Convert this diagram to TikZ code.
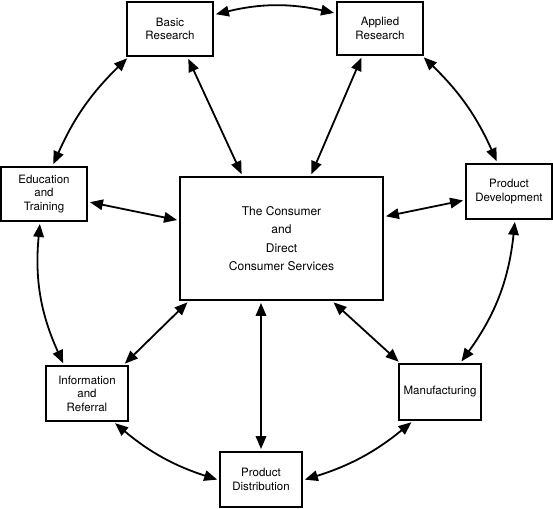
\documentclass[tikz,border=0pt]{standalone}
\usepackage{fontspec}
\setmainfont{TeX Gyre Heros}
\usetikzlibrary{arrows.meta}
\begin{document}
\begin{tikzpicture}[x=1pt,y=-1pt,
box/.style={draw,line width=1.9pt,align=center,inner sep=0pt,font=\fontsize{11.5}{13.5}\selectfont},
link/.style={{Triangle[length=13pt,width=10.5pt]}-{Triangle[length=13pt,width=10.5pt]},line width=1.8pt,shorten <=2pt,shorten >=2pt}]
\useasboundingbox(0,0)rectangle(553,508);
\node[box,minimum width=86pt,minimum height=54pt](basic)at(170,29){Basic\\Research};
\node[box,minimum width=86pt,minimum height=53pt](applied)at(380,28.5){Applied\\Research};
\node[box,minimum width=86pt,minimum height=54pt](edu)at(44,194){Education\\and\\Training};
\node[box,minimum width=86pt,minimum height=55pt](devel)at(509,191.5){Product\\Development};
\node[box,minimum width=203pt,minimum height=123pt,font=\fontsize{12}{18.3}\selectfont](consumer)at(281.5,238.5){The Consumer\\and\\Direct\\Consumer Services};
\node[box,minimum width=82pt,minimum height=55pt](info)at(87,393.5){Information\\and\\Referral};
\node[box,minimum width=82pt,minimum height=56pt](manu)at(440,392){Manufacturing};
\node[box,minimum width=82pt,minimum height=55pt](distr)at(261,479.5){Product\\Distribution};

\draw[link](basic.18)to[bend left=13](applied.161);
\draw[link](basic.214)to[bend right=11](edu.73);
\draw[link](applied.-33)to[bend left=11](devel.112);
\draw[link](edu.-98)to[bend right=15](info.129);
\draw[link](devel.-78)to[bend left=15](manu.55);
\draw[link](info.-47)to[bend right=11](distr.181);
\draw[link](manu.227)to[bend left=11](distr.-1);

\draw[link](basic.-58)--(consumer.122);
\draw[link](applied.237)--(consumer.65);
\draw[link](edu.-10)--(consumer.170);
\draw[link](devel.191)--(consumer.12);
\draw[link](consumer.214)--(info.38);
\draw[link](consumer.-51)--(manu.144);
\draw[link](consumer.south -| distr.north)--(distr.north);
\end{tikzpicture}
\end{document}
